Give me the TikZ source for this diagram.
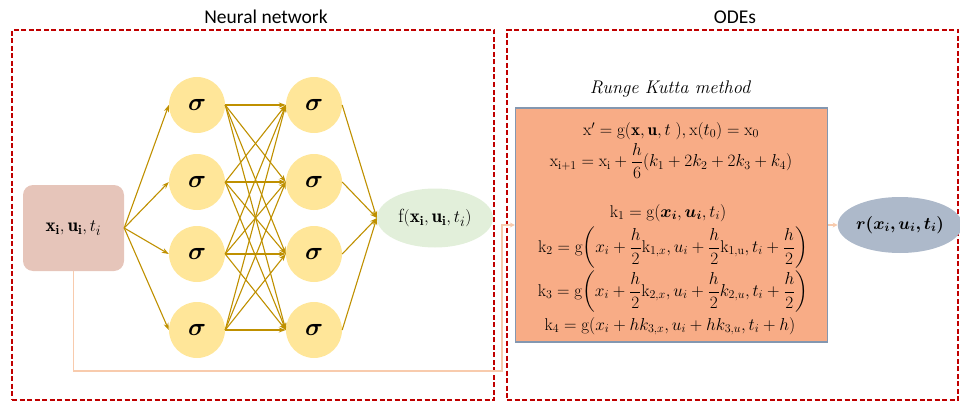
\documentclass[tikz,border=0pt]{standalone}
\usepackage{amsmath,bm}
\usepackage{fontspec}
\newfontfamily\calibri{Carlito}
\usetikzlibrary{arrows.meta,shapes.geometric}
\definecolor{dashred}{RGB}{192,0,0}
\definecolor{inputfill}{RGB}{230,197,186}
\definecolor{neuronfill}{RGB}{255,230,153}
\definecolor{gold}{RGB}{191,144,0}
\definecolor{fgreen}{RGB}{226,239,218}
\definecolor{rkfill}{RGB}{248,172,134}
\definecolor{rkborder}{RGB}{132,151,176}
\definecolor{rfill}{RGB}{173,185,202}
\definecolor{peach}{RGB}{248,203,173}
\begin{document}
\begin{tikzpicture}[x=1pt,y=-1pt,
  panel/.style={draw=dashred,line width=1.4pt,dash pattern=on 5pt off 2.5pt},
  title/.style={font=\calibri\fontsize{19.5}{22}\selectfont},
  neuron/.style={circle,fill=neuronfill,minimum size=56pt,inner sep=0pt,font=\fontsize{27}{27}\selectfont},
  conn/.style={draw=gold,line width=1.1pt,-{Stealth[length=7pt,width=5pt]}},
  eq/.style={inner sep=0pt,font=\fontsize{17}{20}\selectfont},
  label/.style={font=\fontsize{19}{22}\selectfont},
  feed/.style={draw=peach,line width=1.5pt}
]
\useasboundingbox (0,0) rectangle (960,401);
% panels
\node[panel,minimum width=482pt,minimum height=370pt,inner sep=0pt] (nnpanel) at (253,215) {};
\node[panel,minimum width=451pt,minimum height=370pt,inner sep=0pt] (odepanel) at (732.5,215) {};
\node[title] (t1) at (266,17) {Neural network};
\node[title] (t2) at (735,17) {ODEs};
% input
\node[fill=inputfill,rounded corners=10pt,minimum width=101pt,minimum height=86pt,label] (in) at (73.5,228) {$\mathbf{x_i},\mathbf{u_i},t_i$};
% neurons
\foreach \i/\y in {1/105,2/182,3/254,4/330}{
  \node[neuron] (a\i) at (197,\y) {$\boldsymbol{\sigma}$};
  \node[neuron] (b\i) at (314,\y) {$\boldsymbol{\sigma}$};
}
% f ellipse
\node[ellipse,fill=fgreen,minimum width=116pt,minimum height=59pt,inner sep=0pt,label] (f) at (435,218) {$\mathrm{f}(\mathbf{x_i},\mathbf{u_i},t_i)$};
% connections
\foreach \i in {1,...,4}{
  \draw[conn] (in.east) -- (a\i.west);
  \draw[conn] (b\i.east) -- (f.west);
  \foreach \j in {1,...,4}{
    \draw[conn] (a\i.east) -- (b\j.west);
  }
}
% RK box
\node[font=\itshape\fontsize{18.3}{21}\selectfont] (rkt) at (670,89) {Runge Kutta method};
\node[draw=rkborder,line width=1.2pt,fill=rkfill,minimum width=312pt,minimum height=234pt,inner sep=0pt] (rk) at (671.5,225) {};
\node[eq] (e1) at (671,131) {$\mathrm{x}' = \mathrm{g}(\mathbf{x},\mathbf{u},t\;),\mathrm{x}(t_0)=\mathrm{x}_0$};
\node[eq] (e2) at (671,161) {$\mathrm{x}_{\mathrm{i+1}} = \mathrm{x}_{\mathrm{i}} + \dfrac{h}{6}(k_1+2k_2+2k_3+k_4)$};
\node[eq] (e3) at (668,213) {$\mathrm{k}_1 = \mathrm{g}(\bm{x_i},\bm{u_i},t_i)$};
\node[eq] (e4) at (673,248) {$\mathrm{k}_2 = \mathrm{g}\biggl(x_i+\dfrac{h}{2}\mathrm{k}_{1,x}, u_i+\dfrac{h}{2}\mathrm{k}_{1,\mathrm{u}}, t_i+\dfrac{h}{2}\biggr)$};
\node[eq] (e5) at (673,292) {$\mathrm{k}_3 = \mathrm{g}\biggl(x_i+\dfrac{h}{2}\mathrm{k}_{2,x}, u_i+\dfrac{h}{2}k_{2,u}, t_i+\dfrac{h}{2}\biggr)$};
\node[eq] (e6) at (670,326) {$\mathrm{k}_4 = \mathrm{g}(x_i+hk_{3,x}, u_i+hk_{3,u}, t_i+h)$};
% r ellipse
\node[ellipse,fill=rfill,minimum width=116pt,minimum height=56pt,inner sep=0pt,font=\fontsize{17.5}{20}\selectfont] (r) at (900,225) {$\boldsymbol{r(x_i,u_i,t_i)}$};
\draw[feed,-{Stealth[length=5pt,width=5pt]}] (rk.east) -- (r.west);
% feedback
\coordinate (c1) at (in.south |- 0,371);
\coordinate (c2) at (502,371);
\coordinate (c3) at (502,225);
\draw[feed,-{Stealth[length=5pt,width=5pt]}] (in.south) -- (c1) -- (c2) -- (c3) -- (rk.west |- c3);
\end{tikzpicture}
\end{document}
